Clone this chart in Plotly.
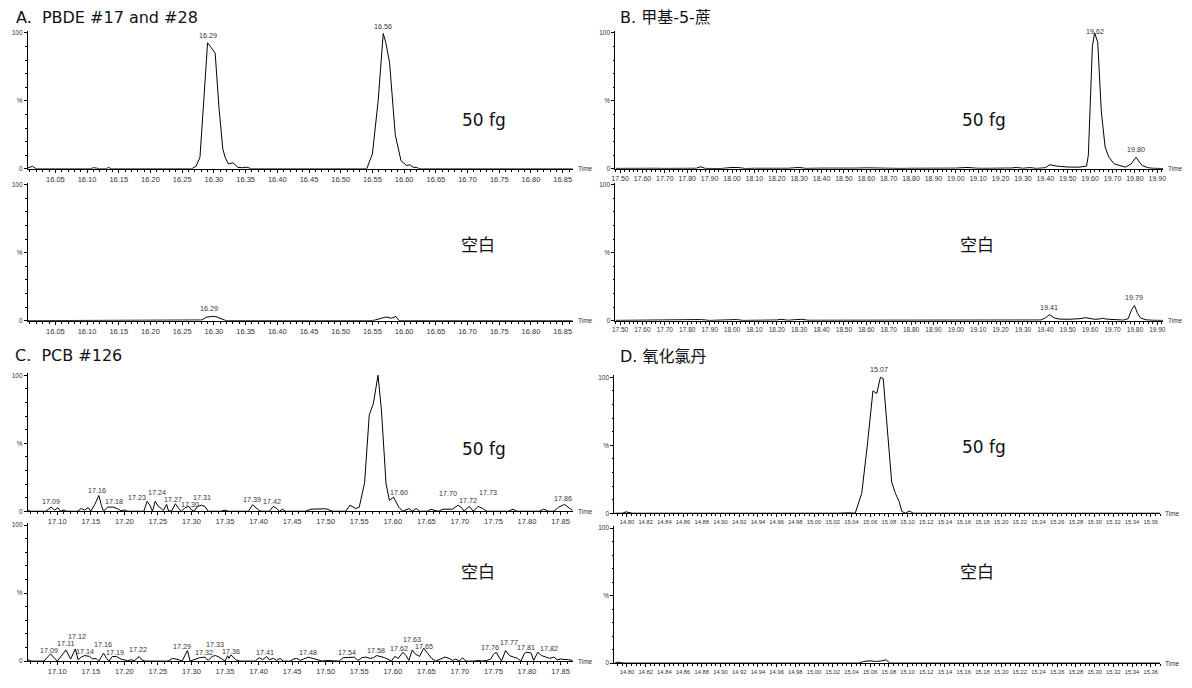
import plotly.graph_objects as go

# The page body has an 8 px margin, so the figure is 16 px smaller and all
# reference pixel positions are shifted by that margin.
PAGE_W, PAGE_H = 1192, 688
OFF = 8
W, H = PAGE_W - 2 * OFF, PAGE_H - 2 * OFF

# ---------------- data (retention time [min], relative intensity [%]) ----------------
a1_trace = [(16.005, 0.5), (16.010, 1.5), (16.014, 1.8), (16.018, 0.5), (16.022, 0), (16.105, 0), (16.110, 0.8),
            (16.115, 0.5), (16.120, 0), (16.130, 0), (16.134, 1.0), (16.138, 0), (16.265, 0), (16.272, 2),
            (16.278, 8.5), (16.284, 50), (16.290, 92.7), (16.296, 89), (16.302, 85), (16.308, 45), (16.314, 14.6),
            (16.318, 8), (16.323, 3.6), (16.330, 4.4), (16.338, 1), (16.345, 0.8), (16.352, 1.2), (16.356, 0.5),
            (16.360, 0), (16.541, 0), (16.550, 11), (16.559, 50), (16.567, 99.5), (16.571, 93), (16.577, 78),
            (16.586, 25), (16.595, 6), (16.604, 2.4), (16.609, 3), (16.614, 1.2), (16.619, 1), (16.625, 0),
            (16.640, 0), (16.645, 0.4), (16.655, 0.3), (16.660, 0), (16.866, 0)]
a1_labels = [("16.29", 16.290, 92.7), ("16.56", 16.567, 99.5)]

a2_trace = [(16.005, 0), (16.275, 0), (16.281, 0.5), (16.288, 2.5), (16.296, 3.1), (16.303, 3.0), (16.310, 1.5),
            (16.319, 0), (16.545, 0), (16.553, 0.3), (16.562, 1.5), (16.571, 2.7), (16.580, 1.8), (16.587, 3.1),
            (16.592, 0), (16.866, 0)]
a2_labels = [("16.29", 16.293, 3.1)]

b1_trace = [(17.48, 0.3), (17.55, 0.5), (17.60, 0.2), (17.65, 0.4), (17.70, 0.3), (17.75, 0.5), (17.80, 0.3),
            (17.84, 0.4), (17.86, 1.5), (17.88, 0.3), (17.95, 0.2), (18.00, 1.0), (18.03, 0.9), (18.06, 0.2),
            (18.10, 0.4), (18.15, 0.3), (18.20, 0.6), (18.25, 0.4), (18.30, 1.0), (18.33, 0.3), (18.40, 0.5),
            (18.45, 0.4), (18.50, 0.6), (18.55, 0.5), (18.60, 0.7), (18.65, 0.4), (18.70, 0.5), (18.75, 0.3),
            (18.80, 0.4), (18.85, 0.3), (18.90, 0.4), (18.95, 0.3), (19.00, 0.5), (19.05, 1.0), (19.10, 0.4),
            (19.15, 0.4), (19.20, 0.3), (19.25, 0.6), (19.27, 1.0), (19.30, 0.4), (19.33, 0.9), (19.36, 0.3),
            (19.40, 0.8), (19.42, 3.0), (19.45, 2.0), (19.50, 1.3), (19.55, 1.2), (19.575, 1.5), (19.584, 2),
            (19.592, 10), (19.600, 50), (19.610, 90), (19.620, 100), (19.634, 93), (19.650, 42), (19.667, 16),
            (19.684, 8.5), (19.708, 3.6), (19.733, 2.4), (19.758, 1.2), (19.783, 3.6), (19.805, 8.5), (19.820, 5),
            (19.833, 2.4), (19.858, 0.8), (19.88, 0.4), (19.926, 0.2)]
b1_labels = [("19.62", 19.620, 95.5), ("19.80", 19.805, 8.5)]

b2_trace = [(17.48, 0.2), (17.55, 0.3), (17.60, 0.2), (17.70, 0.3), (17.80, 0.2), (17.86, 0.8), (17.90, 0.2),
            (18.00, 0.3), (18.02, 0.8), (18.05, 0.2), (18.10, 0.3), (18.15, 0.2), (18.20, 0.5), (18.22, 1.0),
            (18.25, 0.3), (18.29, 0.8), (18.31, 1.0), (18.34, 0.3), (18.40, 0.3), (18.50, 0.4), (18.55, 0.6),
            (18.60, 0.3), (18.65, 0.5), (18.70, 0.3), (18.80, 0.3), (18.90, 0.2), (19.00, 0.4), (19.05, 0.3),
            (19.10, 0.3), (19.20, 0.3), (19.30, 0.4), (19.35, 0.6), (19.38, 0.5), (19.40, 2.0), (19.418, 4.4),
            (19.44, 2.0), (19.46, 1.2), (19.50, 1.0), (19.55, 1.4), (19.58, 2.2), (19.60, 1.5), (19.62, 1.0),
            (19.64, 1.2), (19.655, 1.8), (19.67, 1.2), (19.70, 0.7), (19.75, 0.4), (19.77, 1.5), (19.785, 8),
            (19.798, 11.2), (19.81, 6), (19.825, 2), (19.85, 0.6), (19.88, 0.3), (19.926, 0.2)]
b2_labels = [("19.41", 19.418, 4.4), ("19.79", 19.798, 11.2)]

c1_trace = [(17.056, 1.0), (17.060, 0), (17.083, 0), (17.091, 3.1), (17.096, 0.8), (17.101, 2.6), (17.105, 0),
            (17.110, 1.0), (17.114, 0), (17.130, 0), (17.136, 2.0), (17.141, 0.8), (17.146, 2.8), (17.150, 0),
            (17.156, 5.0), (17.162, 11.6), (17.166, 4.0), (17.169, 0), (17.175, 3.0), (17.183, 3.1), (17.190, 1.8),
            (17.195, 0.3), (17.200, 1.0), (17.205, 0), (17.229, 0), (17.234, 7.3), (17.238, 4.5), (17.242, 0),
            (17.246, 7.3), (17.250, 4.0), (17.255, 2.0), (17.258, 0.5), (17.263, 5.0), (17.266, 0), (17.271, 0.5),
            (17.276, 5.5), (17.281, 2.0), (17.285, 0), (17.290, 2.5), (17.296, 3.6), (17.300, 1.0), (17.304, 0),
            (17.309, 3.5), (17.315, 4.4), (17.320, 3.5), (17.325, 0), (17.344, 0), (17.350, 0.8), (17.355, 0),
            (17.385, 0), (17.391, 4.8), (17.396, 2.5), (17.401, 0.5), (17.405, 0), (17.416, 0), (17.422, 3.6),
            (17.427, 2.0), (17.431, 0), (17.436, 1.5), (17.440, 0), (17.470, 0), (17.478, 1.5), (17.500, 1.8),
            (17.505, 1.0), (17.510, 0), (17.530, 0), (17.536, 4.4), (17.545, 2.0), (17.550, 3.0), (17.558, 21),
            (17.565, 71), (17.571, 79), (17.578, 100), (17.583, 75), (17.590, 20), (17.595, 8), (17.601, 10.4),
            (17.609, 3), (17.615, 0), (17.624, 2.0), (17.629, 0), (17.635, 2.0), (17.640, 0), (17.652, 0),
            (17.657, 1.5), (17.663, 0.5), (17.668, 0), (17.675, 1.5), (17.682, 1.5), (17.689, 1.5), (17.697, 4.4),
            (17.703, 2.5), (17.706, 0), (17.714, 3.6), (17.720, 0), (17.727, 3.6), (17.734, 2.0), (17.740, 0),
            (17.772, 0), (17.779, 1.5), (17.785, 0), (17.818, 0), (17.825, 1.5), (17.832, 0), (17.840, 0),
            (17.847, 3.0), (17.856, 5.0), (17.862, 2.5), (17.868, 0.5)]
c1_labels = [("17.09", 17.091, 6.8), ("17.16", 17.159, 15.3), ("17.18", 17.185, 6.8), ("17.23", 17.219, 10.4),
             ("17.24", 17.249, 13.8), ("17.27", 17.272, 9.0), ("17.30", 17.298, 5.1), ("17.31", 17.316, 10.2),
             ("17.39", 17.390, 8.7), ("17.42", 17.420, 6.8), ("17.58", 17.576, 103.5), ("17.60", 17.609, 13.6),
             ("17.70", 17.683, 12.8), ("17.72", 17.712, 8.0), ("17.73", 17.742, 13.6), ("17.86", 17.853, 9.7)]

c2_trace = [(17.056, 1.0), (17.062, 0), (17.080, 0), (17.090, 5.3), (17.100, 0), (17.108, 5.0), (17.113, 8.2),
            (17.120, 1.5), (17.127, 9.0), (17.131, 1.0), (17.136, 3.0), (17.141, 4.1), (17.148, 3.5), (17.153, 1.5),
            (17.158, 2.0), (17.162, 0), (17.169, 5.8), (17.173, 2.5), (17.177, 0), (17.182, 3.4), (17.188, 3.4),
            (17.195, 1.5), (17.200, 1.0), (17.205, 0.3), (17.210, 1.0), (17.215, 0.3), (17.222, 3.4), (17.226, 1.0),
            (17.231, 0), (17.265, 0), (17.272, 2.0), (17.280, 1.2), (17.286, 0), (17.294, 7.8), (17.298, 0),
            (17.305, 1.0), (17.312, 2.5), (17.320, 2.9), (17.325, 0.5), (17.331, 3.5), (17.336, 4.1), (17.341, 3.0),
            (17.346, 1.5), (17.350, 0), (17.354, 4.0), (17.356, 2.0), (17.359, 4.6), (17.366, 1.0), (17.372, 0),
            (17.395, 0), (17.401, 2.5), (17.406, 1.0), (17.412, 3.4), (17.416, 1.0), (17.422, 2.0), (17.427, 0.5),
            (17.432, 2.0), (17.437, 0), (17.447, 0), (17.452, 1.5), (17.457, 2.0), (17.462, 0.5), (17.467, 1.5),
            (17.474, 2.9), (17.481, 2.0), (17.490, 1.0), (17.495, 0), (17.500, 0.5), (17.510, 0), (17.520, 0),
            (17.526, 2.5), (17.534, 2.9), (17.543, 2.9), (17.548, 0.5), (17.554, 2.5), (17.560, 3.0), (17.566, 2.0),
            (17.571, 2.5), (17.576, 4.1), (17.588, 2.5), (17.598, 0), (17.603, 3.5), (17.608, 2.0), (17.615, 6.5),
            (17.620, 4.0), (17.624, 0.5), (17.629, 8.2), (17.634, 5.0), (17.640, 3.5), (17.646, 9.5), (17.652, 6.0),
            (17.658, 2.0), (17.664, 0), (17.672, 2.0), (17.678, 3.0), (17.684, 2.0), (17.689, 0.5), (17.694, 1.5),
            (17.699, 0), (17.704, 2.5), (17.709, 0), (17.720, 0), (17.728, 0.5), (17.733, 0), (17.740, 0.5),
            (17.746, 1.5), (17.750, 5.0), (17.754, 6.5), (17.758, 3.0), (17.762, 0), (17.768, 7.8), (17.774, 4.0),
            (17.780, 3.0), (17.786, 2.0), (17.791, 0), (17.796, 5.5), (17.799, 6.5), (17.806, 6.0), (17.810, 0.5),
            (17.816, 6.5), (17.822, 4.0), (17.828, 3.0), (17.834, 2.0), (17.840, 3.0), (17.845, 1.0), (17.850, 1.5),
            (17.856, 1.5), (17.862, 1.0), (17.868, 0.5)]
c2_labels = [("17.09", 17.087, 7.8), ("17.11", 17.112, 12.6), ("17.12", 17.130, 18.0), ("17.14", 17.141, 7.0),
             ("17.16", 17.168, 11.9), ("17.19", 17.186, 6.1), ("17.22", 17.220, 8.3), ("17.29", 17.286, 10.7),
             ("17.32", 17.318, 6.1), ("17.33", 17.335, 11.9), ("17.36", 17.359, 7.3), ("17.41", 17.410, 6.6),
             ("17.48", 17.473, 6.1), ("17.54", 17.532, 6.6), ("17.58", 17.575, 7.8), ("17.62", 17.609, 9.5),
             ("17.63", 17.629, 16.0), ("17.65", 17.646, 10.9), ("17.76", 17.745, 10.2), ("17.77", 17.773, 13.8),
             ("17.81", 17.799, 9.7), ("17.82", 17.833, 9.0)]

d1_trace = [(14.787, 0), (14.795, 0), (14.799, 1.0), (14.803, 0.5), (14.806, 0), (15.025, 0), (15.030, 0.3),
            (15.038, 0.3), (15.044, 0), (15.051, 14.6), (15.057, 50), (15.063, 90), (15.067, 88), (15.071, 100),
            (15.074, 99), (15.078, 67), (15.083, 23), (15.087, 14.6), (15.091, 8.5), (15.094, 1.2), (15.098, 0),
            (15.102, 1.7), (15.106, 0), (15.371, 0)]
d1_labels = [("15.07", 15.069, 100)]

d2_trace = [(14.787, 0), (14.790, 0.7), (14.794, 0.3), (14.797, 0), (15.048, 0), (15.053, 1.2), (15.060, 1.7),
            (15.066, 1.2), (15.072, 1.6), (15.077, 2.4), (15.081, 0), (15.220, 0), (15.225, 0.4), (15.232, 0.4),
            (15.236, 0), (15.371, 0)]
d2_labels = []

panel_titles = ["A.  PBDE #17 and #28", "B. 甲基-5-蔗", "C.  PCB #126", "D. 氧化氯丹"]
sample_labels = ["50 fg", "空白"]
y_tick_text = ["0", "%", "100"]
y_tick_vals = [0, 50, 100]

# ---------------- layout geometry (page pixels) ----------------
panels = [
    dict(tr=a1_trace, lb=a1_labels, x0=24, x1=572, y100=31, y0=168, rng=(16.0067, 16.8657), t0=16.0, dt=0.05,
         mdt=0.01, tf=7.5, anchor="bottom"),
    dict(tr=a2_trace, lb=a2_labels, x0=24, x1=572, y100=184, y0=321, rng=(16.0067, 16.8657), t0=16.0, dt=0.05,
         mdt=0.01, tf=7.5, anchor="bottom"),
    dict(tr=b1_trace, lb=b1_labels, x0=615, x1=1166, y100=31, y0=168, rng=(17.479, 19.926), t0=17.5, dt=0.1,
         mdt=0.02, tf=7, anchor="bottom"),
    dict(tr=b2_trace, lb=b2_labels, x0=615, x1=1166, y100=184, y0=321, rng=(17.479, 19.926), t0=17.5, dt=0.1,
         mdt=0.02, tf=6.5, anchor="bottom"),
    dict(tr=c1_trace, lb=c1_labels, x0=24, x1=572, y100=376, y0=513, rng=(17.0563, 17.868), t0=17.0, dt=0.05,
         mdt=0.01, tf=7.5, anchor="middle"),
    dict(tr=c2_trace, lb=c2_labels, x0=24, x1=572, y100=527, y0=664, rng=(17.0563, 17.868), t0=17.0, dt=0.05,
         mdt=0.01, tf=7.5, anchor="middle"),
    dict(tr=d1_trace, lb=d1_labels, x0=614, x1=1163, y100=378, y0=515, rng=(14.7866, 15.370), t0=14.8, dt=0.02,
         mdt=0.005, tf=5.8, anchor="bottom"),
    dict(tr=d2_trace, lb=d2_labels, x0=614, x1=1163, y100=530, y0=666, rng=(14.7866, 15.370), t0=14.8, dt=0.02,
         mdt=0.005, tf=5.8, anchor="bottom"),
]


def fx(px):
    return (px - OFF) / W


def fy(py):
    return 1 - (py - OFF) / H


YTOP = 101.5
TICK_FONT = "Liberation Sans, Arial, sans-serif"
TXT = "#333333"

fig = go.Figure()
annotations = []
layout_axes = {}

for k, p in enumerate(panels, start=1):
    sfx = "" if k == 1 else str(k)
    xa, ya = "x" + sfx, "y" + sfx
    t = [pt[0] for pt in p["tr"]]
    v = [pt[1] for pt in p["tr"]]
    fig.add_trace(go.Scatter(x=t, y=v, mode="lines", line=dict(color="black", width=1),
                             xaxis=xa, yaxis=ya, hoverinfo="skip", showlegend=False))
    top_px = p["y0"] - (p["y0"] - p["y100"]) * YTOP / 100.0
    layout_axes["xaxis" + sfx] = dict(
        domain=[fx(p["x0"]), fx(p["x1"])], range=list(p["rng"]), anchor=ya,
        showline=True, linecolor="black", linewidth=1, showgrid=False, zeroline=False,
        ticks="outside", ticklen=3, tickcolor="black", tickwidth=1,
        tick0=p["t0"], dtick=p["dt"], tickformat=".2f",
        tickfont=dict(family=TICK_FONT, size=p["tf"], color=TXT),
        minor=dict(dtick=p["mdt"], tick0=p["t0"], ticks="outside", ticklen=2, tickcolor="black", showgrid=False),
        fixedrange=True)
    layout_axes["yaxis" + sfx] = dict(
        domain=[fy(p["y0"]), fy(top_px)], range=[0, YTOP], anchor=xa,
        showline=True, linecolor="black", linewidth=1, showgrid=False, zeroline=False,
        ticks="outside", ticklen=3, tickcolor="black", tickwidth=1,
        tickvals=y_tick_vals, ticktext=y_tick_text,
        tickfont=dict(family=TICK_FONT, size=6.5, color=TXT),
        minor=dict(dtick=10, ticks="outside", ticklen=1.5, tickcolor="black", showgrid=False),
        fixedrange=True)
    annotations.append(dict(xref="paper", yref="paper", x=fx(p["x1"] + 3), y=fy(p["y0"]),
                            text="Time", showarrow=False, xanchor="left", yanchor="middle",
                            font=dict(family=TICK_FONT, size=6.5, color=TXT)))
    for text, tt, vv in p["lb"]:
        annotations.append(dict(xref=xa, yref=ya, x=tt, y=vv, text=text, showarrow=False,
                                xanchor="center", yanchor=p["anchor"], yshift=1 if p["anchor"] == "bottom" else 0,
                                font=dict(family=TICK_FONT, size=7.2, color=TXT)))

TITLE_FONT = "DejaVu Sans, Noto Sans CJK SC, sans-serif"
title_pos = [(11, 16), (619, 16), (10, 356), (619, 357)]
for txt, (px, py) in zip(panel_titles, title_pos):
    annotations.append(dict(xref="paper", yref="paper", x=fx(px), y=fy(py), text=txt, showarrow=False,
                            xanchor="left", yanchor="middle", borderpad=0,
                            font=dict(family=TITLE_FONT, size=16, color="#111")))

sample_pos = [[(459, 119), (458, 243)], [(962, 119), (960, 243)], [(459, 450), (458, 573)], [(962, 448), (960, 573)]]
for pair in sample_pos:
    for txt, (px, py) in zip(sample_labels, pair):
        fam = "DejaVu Sans, sans-serif" if txt == "50 fg" else "Noto Sans CJK SC, sans-serif"
        annotations.append(dict(xref="paper", yref="paper", x=fx(px), y=fy(py), text=txt, showarrow=False,
                                xanchor="left", yanchor="middle", font=dict(family=fam, size=17, color="#111")))

fig.update_layout(width=W, height=H, margin=dict(l=0, r=0, t=0, b=0), autosize=False,
                  paper_bgcolor="white", plot_bgcolor="white", showlegend=False,
                  annotations=annotations, **layout_axes)

fig.write_html("out.html", config={"displayModeBar": False})
